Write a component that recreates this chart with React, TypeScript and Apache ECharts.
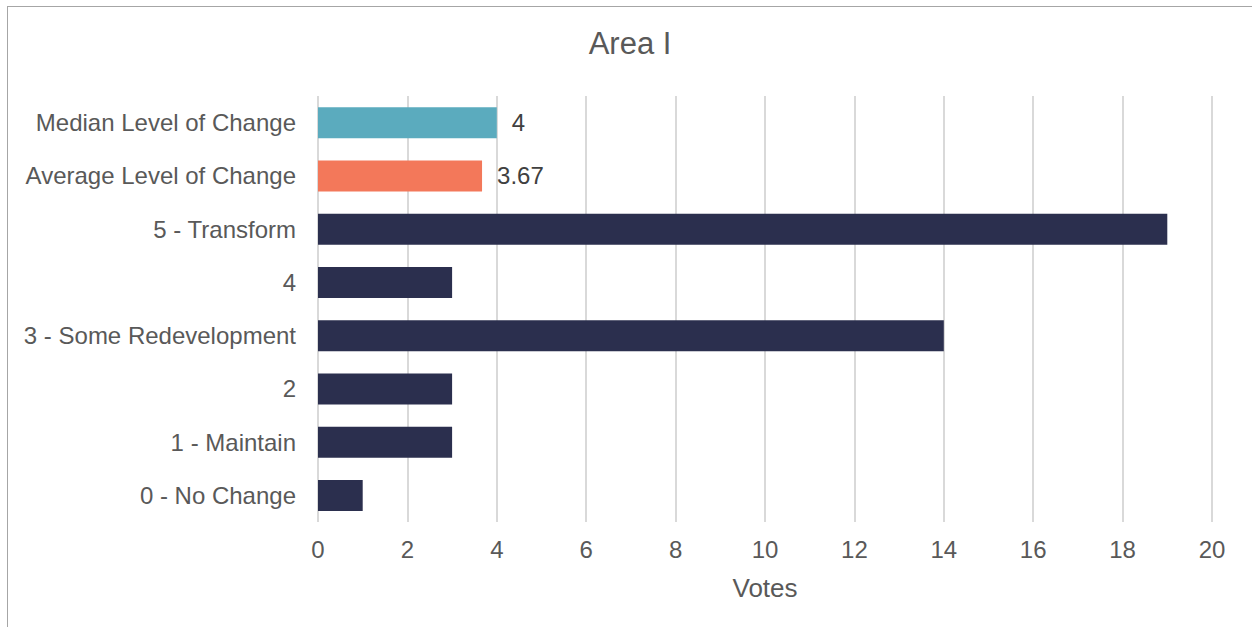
import React, { useEffect, useRef } from "react";
import * as echarts from "echarts";

const categories = [
  "Median Level of Change",
  "Average Level of Change",
  "5 - Transform",
  "4",
  "3 - Some Redevelopment",
  "2",
  "1 - Maintain",
  "0 - No Change",
];
const votes = [4, 3.67, 19, 3, 14, 3, 3, 1];
const valueLabels = ["4", "3.67", "", "", "", "", "", ""];
const barColors = ["#5BABBE", "#F3785A", "#2B2F4E", "#2B2F4E", "#2B2F4E", "#2B2F4E", "#2B2F4E", "#2B2F4E"];
const xTicks = { min: 0, max: 20, interval: 2 };
const titleText = "Area I";
const xAxisName = "Votes";

const FONT = "'Liberation Sans', Arial, sans-serif";

export default function App() {
  const ref = useRef<HTMLDivElement>(null);
  useEffect(() => {
    if (!ref.current) return;
    const chart = echarts.init(ref.current, undefined, { renderer: "svg" });
    chart.setOption({
      animation: false,
      textStyle: { fontFamily: FONT },
      title: {
        text: titleText,
        left: "center",
        top: 21,
        padding: 0,
        textStyle: { fontFamily: FONT, fontSize: 31, fontWeight: "normal", color: "#595959" },
      },
      grid: { left: 310, right: 40, top: 89, bottom: 105, containLabel: false },
      xAxis: {
        type: "value",
        min: xTicks.min,
        max: xTicks.max,
        interval: xTicks.interval,
        name: xAxisName,
        nameLocation: "middle",
        nameGap: 53,
        nameTextStyle: { fontFamily: FONT, fontSize: 26, color: "#595959" },
        axisLine: { show: false },
        axisTick: { show: false },
        axisLabel: { fontFamily: FONT, fontSize: 24, color: "#595959", margin: 15 },
        splitLine: { show: true, lineStyle: { color: "#D9D9D9", width: 2 } },
      },
      yAxis: {
        type: "category",
        inverse: true,
        data: categories,
        axisLine: { show: false },
        axisTick: { show: false },
        axisLabel: { fontFamily: FONT, fontSize: 24, color: "#595959", margin: 22 },
        splitLine: { show: false },
      },
      series: [
        {
          type: "bar",
          barWidth: 31,
          data: votes.map((v, i) => ({ value: v, itemStyle: { color: barColors[i] } })),
          label: {
            show: true,
            position: "right",
            distance: 15,
            fontFamily: FONT,
            fontSize: 24,
            color: "#404040",
            formatter: (p: any) => valueLabels[p.dataIndex],
          },
        },
      ],
    });
    return () => chart.dispose();
  }, []);
  return (
    <div
      style={{
        position: "fixed",
        left: 7,
        top: 6,
        width: 1245,
        height: 621,
        borderTop: "1px solid #A6A6A6",
        borderLeft: "1px solid #A6A6A6",
        background: "#fff",
      }}
    >
      <div ref={ref} style={{ width: 1244, height: 620 }} />
    </div>
  );
}
